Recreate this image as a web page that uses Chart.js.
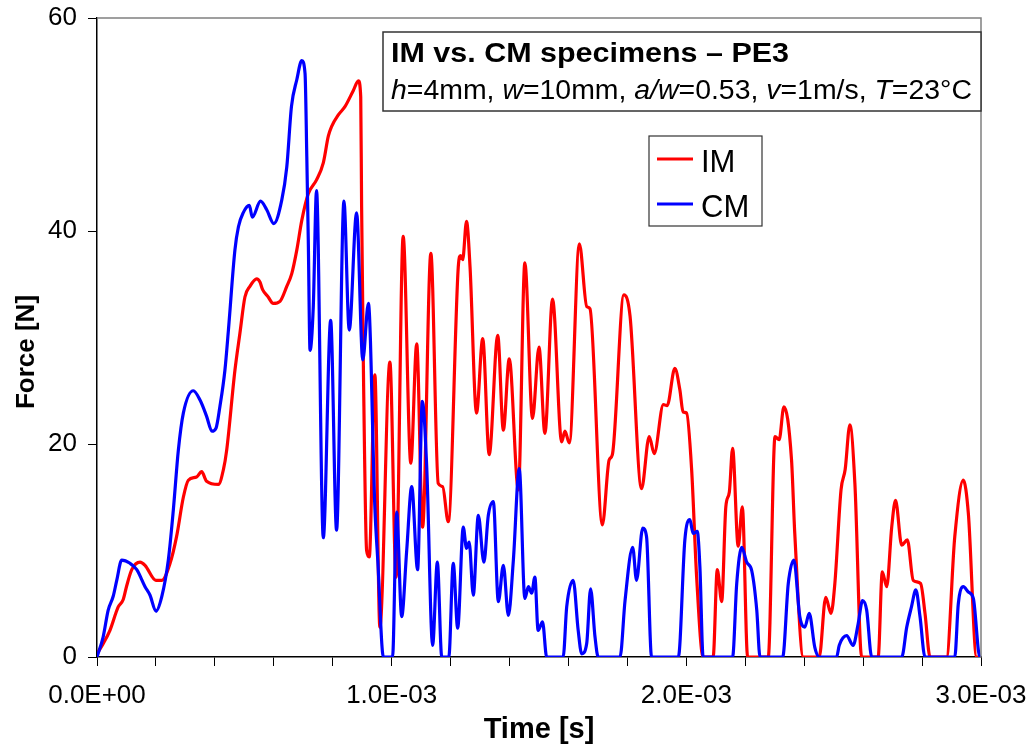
<!DOCTYPE html>
<html>
<head>
<meta charset="utf-8">
<script src="https://cdn.jsdelivr.net/npm/chart.js@4/dist/chart.umd.min.js"></script>
<style>
  html, body { margin: 0; padding: 0; background: #fff; }
  #wrap { width: 1032px; height: 749px; position: relative; }
</style>
</head>
<body>
<div id="wrap"><canvas id="forceChart"></canvas></div>
<script>
// --- Data (time in ms, force in N) ---
const imTime = [0, 0.02, 0.044, 0.072, 0.089, 0.1, 0.118, 0.146, 0.163, 0.2,
  0.22, 0.248, 0.27, 0.293, 0.31, 0.338, 0.355, 0.372, 0.412, 0.429,
  0.44, 0.468, 0.485, 0.502, 0.519, 0.542, 0.553, 0.562, 0.581, 0.598,
  0.621, 0.644, 0.661, 0.678, 0.695, 0.717, 0.745, 0.768, 0.785, 0.796,
  0.819, 0.842, 0.87, 0.887, 0.895, 0.898, 0.904, 0.915, 0.924, 0.943,
  0.96, 0.994, 1.015, 1.039, 1.065, 1.085, 1.105, 1.133, 1.158, 1.173,
  1.192, 1.226, 1.234, 1.241, 1.254, 1.266, 1.288, 1.309, 1.331, 1.36,
  1.379, 1.399, 1.43, 1.452, 1.478, 1.5, 1.52, 1.546, 1.577, 1.588,
  1.603, 1.637, 1.662, 1.673, 1.715, 1.738, 1.749, 1.788, 1.809, 1.848,
  1.874, 1.891, 1.922, 1.935, 1.961, 1.978, 1.989, 2.001, 2.018, 2.035,
  2.057, 2.091, 2.105, 2.12, 2.134, 2.146, 2.157, 2.176, 2.19, 2.208,
  2.278, 2.301, 2.315, 2.331, 2.357, 2.368, 2.397, 2.451, 2.473, 2.491,
  2.504, 2.525, 2.539, 2.555, 2.572, 2.595, 2.651, 2.665, 2.68, 2.697,
  2.71, 2.731, 2.75, 2.77, 2.795, 2.81, 2.827, 2.883, 2.911, 2.94,
  2.957, 2.985, 3.0];
const imForce = [0.3, 1.2, 2.5, 4.7, 5.4, 6.6, 8.2, 8.9, 8.6, 7.2,
  7.2, 8.8, 11.3, 15, 16.6, 16.9, 17.4, 16.5, 16.2, 17.6,
  19.4, 26.9, 30.4, 33.8, 34.8, 35.5, 35.2, 34.5, 33.8, 33.2,
  33.4, 34.8, 36, 38.2, 41, 43.5, 44.8, 46.4, 48.9, 49.8,
  50.9, 51.7, 53.2, 54.1, 52.6, 42.3, 27.3, 10, 9.4, 26.5,
  2.8, 27.7, 7.5, 39.5, 18.2, 29.4, 12.2, 37.9, 16.3, 16,
  12.7, 36.6, 37.7, 37.3, 40.9, 36.6, 22.9, 29.9, 19, 30.2,
  21.3, 28, 15.7, 37, 22.4, 29.1, 21, 33.6, 20.2, 21.2,
  20.1, 38.8, 32.9, 32.7, 12.4, 18.5, 19, 34, 32, 15.8,
  20.7, 19.1, 23.7, 23.6, 27.1, 25.1, 23, 22.9, 17.6, 7.5,
  0, 0, 8.2, 5.2, 14.1, 15.5, 19.6, 10.4, 14.1, 0,
  0, 20.7, 20.4, 23.5, 18.5, 11.6, 0, 0, 5.6, 4.1,
  6.9, 15.7, 17.6, 21.8, 16.3, 0, 0, 8, 6.6, 12.2,
  14.7, 10.5, 11, 7.2, 6.9, 4.1, 0, 0, 11.3, 16.6,
  13.5, 0, 0];

const cmTime = [0, 0.021, 0.038, 0.055, 0.067, 0.084, 0.112, 0.135, 0.163, 0.18,
  0.2, 0.22, 0.242, 0.259, 0.276, 0.293, 0.327, 0.35, 0.372, 0.39,
  0.404, 0.417, 0.434, 0.446, 0.468, 0.48, 0.496, 0.517, 0.527, 0.555,
  0.576, 0.6, 0.627, 0.644, 0.66, 0.678, 0.695, 0.706, 0.712, 0.717,
  0.723, 0.734, 0.745, 0.768, 0.793, 0.813, 0.838, 0.856, 0.881, 0.902,
  0.921, 0.943, 0.953, 0.972, 1.003, 1.017, 1.034, 1.051, 1.068, 1.088,
  1.104, 1.119, 1.139, 1.155, 1.17, 1.194, 1.209, 1.224, 1.243, 1.254,
  1.263, 1.277, 1.294, 1.313, 1.328, 1.345, 1.362, 1.379, 1.396, 1.413,
  1.433, 1.452, 1.464, 1.475, 1.486, 1.497, 1.512, 1.526, 1.582, 1.594,
  1.616, 1.633, 1.645, 1.662, 1.675, 1.69, 1.701, 1.775, 1.792, 1.818,
  1.831, 1.852, 1.865, 1.882, 1.973, 1.995, 2.012, 2.023, 2.037, 2.046,
  2.057, 2.157, 2.171, 2.188, 2.205, 2.222, 2.239, 2.25, 2.327, 2.346,
  2.365, 2.385, 2.402, 2.417, 2.436, 2.451, 2.51, 2.519, 2.544, 2.566,
  2.583, 2.598, 2.612, 2.629, 2.731, 2.748, 2.764, 2.779, 2.793, 2.81,
  2.911, 2.923, 2.94, 2.957, 2.974, 2.996, 3.0];
const cmForce = [0, 1.9, 4.4, 5.7, 7.2, 9.1, 8.8, 8.2, 6.6, 5.8,
  4.3, 5.7, 9.1, 13.8, 19.4, 22.9, 25, 24.1, 22.6, 21.2,
  21.5, 23.5, 26.9, 30.7, 38.2, 40.4, 41.7, 42.4, 41.3, 42.8,
  42, 40.7, 42.9, 46, 51.7, 54.2, 56, 54.8, 47, 39.2,
  28.8, 32.9, 43.8, 11.2, 31.6, 11.9, 42.8, 30.7, 41.7, 27.9,
  33.2, 14, 9, 0, 0, 13.6, 3.8, 10, 16, 8.2,
  24, 17.8, 1.1, 8.9, 0, 0, 8.8, 2.7, 12.2, 10.2,
  10.8, 5.8, 13.3, 8.9, 13.3, 14.6, 5.2, 8.6, 3.9, 9.1,
  17.7, 5.5, 6.6, 6, 7.5, 2.5, 3.3, 0, 0, 4.7,
  7.2, 2.5, 0.3, 1.3, 6.4, 1.9, 0, 0, 5.3, 10.3,
  7.2, 12.1, 11.3, 0, 0, 11, 12.9, 11.6, 11.8, 8.5,
  0, 0, 6.9, 10.3, 8.9, 8.1, 4.4, 0, 0, 6.9,
  9.1, 3.8, 2.8, 4.1, 0.9, 0, 0, 1.1, 2, 1.1,
  3.1, 5.3, 4.4, 0, 0, 2.8, 4.7, 6.3, 3.8, 0,
  0, 5, 6.6, 6.1, 5.5, 0, 0];

const seriesNames = ["IM", "CM"];
const seriesColors = ["#ff0000", "#0000ff"];
const yTicks = [0, 20, 40, 60];
const xLabelTicks = [0, 1, 2, 3]; // ms, labelled as E-03 seconds
const chartTitle = "IM vs. CM specimens \u2013 PE3";
const chartSubtitle = [["h", true], ["=4mm, ", false], ["w", true], ["=10mm, ", false],
  ["a/w", true], ["=0.53, ", false], ["v", true], ["=1m/s, ", false], ["T", true], ["=23\u00b0C", false]];
const yTitle = "Force [N]";

const FONT = "'Liberation Sans', Arial, sans-serif";

function toPoints(times, forces) {
    return times.map((t, i) => ({ x: t / 1000, y: forces[i] }));
}

function sciLabel(ms) {
    if (ms === 0) return "0.0E+00";
    return ms.toFixed(1) + "E-03";
}

// --- Frame, axis title, title box and legend ---
const decorPlugin = {
    id: "decor",
    afterDraw(chart) {
        const ctx = chart.ctx;
        const a = chart.chartArea;

        // grey top / right frame
        ctx.save();
        ctx.strokeStyle = "#808080";
        ctx.lineWidth = 1.5;
        ctx.beginPath();
        ctx.moveTo(a.left, a.top);
        ctx.lineTo(a.right, a.top);
        ctx.lineTo(a.right, a.bottom);
        ctx.stroke();
        ctx.restore();

        // y axis title (Excel puts it a bit below the middle)
        ctx.save();
        ctx.translate(27, 352);
        ctx.rotate(-Math.PI / 2);
        ctx.font = "bold 26px " + FONT;
        ctx.fillStyle = "#000";
        ctx.textAlign = "center";
        ctx.textBaseline = "middle";
        ctx.fillText(yTitle, 0, 0);
        ctx.restore();

        // title box
        const bx = 383, by = 32, bw = a.right - 383, bh = 79;
        ctx.save();
        ctx.fillStyle = "#fff";
        ctx.fillRect(bx, by, bw, bh);
        ctx.strokeStyle = "#333";
        ctx.lineWidth = 1.5;
        ctx.strokeRect(bx, by, bw, bh);
        ctx.fillStyle = "#000";
        ctx.textBaseline = "alphabetic";

        ctx.font = "bold 27px " + FONT;
        let w = ctx.measureText(chartTitle).width;
        ctx.save();
        ctx.translate(391, 62);
        ctx.scale(398 / w, 1);
        ctx.fillText(chartTitle, 0, 0);
        ctx.restore();

        let total = 0;
        chartSubtitle.forEach(([s, it]) => {
            ctx.font = (it ? "italic " : "") + "27px " + FONT;
            total += ctx.measureText(s).width;
        });
        ctx.save();
        ctx.translate(391, 99);
        ctx.scale(581 / total, 1);
        let x = 0;
        chartSubtitle.forEach(([s, it]) => {
            ctx.font = (it ? "italic " : "") + "27px " + FONT;
            ctx.fillText(s, x, 0);
            x += ctx.measureText(s).width;
        });
        ctx.restore();
        ctx.restore();

        // legend
        ctx.save();
        ctx.fillStyle = "#fff";
        ctx.fillRect(649, 136, 113, 90);
        ctx.strokeStyle = "#333";
        ctx.lineWidth = 1.2;
        ctx.strokeRect(649, 136, 113, 90);
        ctx.font = "31px " + FONT;
        ctx.textBaseline = "alphabetic";
        chart.data.datasets.forEach((ds, i) => {
            const ly = 159 + i * 45;
            ctx.strokeStyle = ds.borderColor;
            ctx.lineWidth = 3;
            ctx.beginPath();
            ctx.moveTo(657, ly);
            ctx.lineTo(693, ly);
            ctx.stroke();
            ctx.fillStyle = "#000";
            ctx.fillText(ds.label, 701, ly + 12.5);
        });
        ctx.restore();
    }
};

const datasets = [
    { label: seriesNames[0], data: toPoints(imTime, imForce), borderColor: seriesColors[0], order: 2 },
    { label: seriesNames[1], data: toPoints(cmTime, cmForce), borderColor: seriesColors[1], order: 1 }
].map(ds => Object.assign(ds, {
    borderWidth: 3.2,
    pointRadius: 0,
    fill: false,
    cubicInterpolationMode: "monotone"
}));

new Chart(document.getElementById("forceChart").getContext("2d"), {
    type: "line",
    data: { datasets },
    options: {
        responsive: true,
        maintainAspectRatio: false,
        animation: false,
        layout: { padding: { top: 18, right: 51, left: 0, bottom: 0 } },
        plugins: { legend: { display: false }, tooltip: { enabled: false } },
        scales: {
            x: {
                type: "linear",
                min: 0,
                max: 0.003,
                afterFit: s => { s.height = 92; s.paddingLeft = 0; s.paddingRight = 0; },
                afterBuildTicks: s => {
                    s.ticks = [];
                    for (let i = 0; i <= 15; i++) s.ticks.push({ value: i * 0.0002 });
                },
                ticks: {
                    autoSkip: false,
                    maxRotation: 0,
                    padding: 14,
                    color: "#000",
                    font: { size: 26, family: FONT },
                    callback: v => {
                        const ms = Math.round(v * 10000) / 10;
                        return xLabelTicks.includes(ms) ? sciLabel(ms) : "";
                    }
                },
                grid: { drawOnChartArea: false, drawTicks: true, tickLength: 9, color: "#000" },
                border: { color: "#000", width: 1.5 },
                title: { display: true, text: "Time [s]", color: "#000",
                    font: { size: 29, weight: "bold", family: FONT }, padding: { top: 0, bottom: 2 } }
            },
            y: {
                min: 0,
                max: 60,
                afterFit: s => { s.width = 97; s.paddingTop = 0; s.paddingBottom = 0; },
                afterBuildTicks: s => { s.ticks = yTicks.map(v => ({ value: v })); },
                ticks: { padding: 11, color: "#000", font: { size: 26, family: FONT } },
                grid: { drawOnChartArea: false, drawTicks: true, tickLength: 9, color: "#000" },
                border: { color: "#000", width: 1.5 }
            }
        }
    },
    plugins: [decorPlugin]
});
</script>
</body>
</html>
